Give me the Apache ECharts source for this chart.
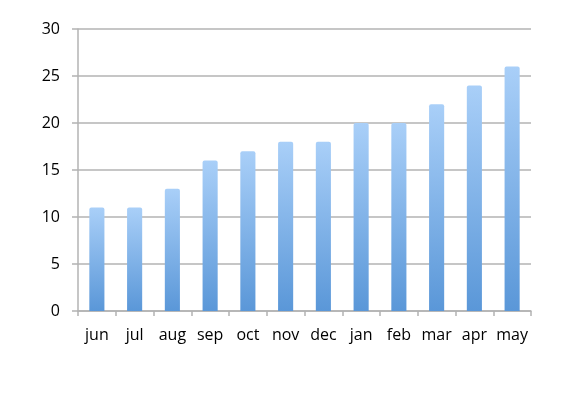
<!DOCTYPE html>
<html>
<head>
<meta charset="utf-8">
<script src="https://cdn.jsdelivr.net/npm/echarts@6/dist/echarts.min.js"></script>
<style>
  html, body { margin: 0; padding: 0; background: #fff; }
  #main { width: 562px; height: 398px; }
</style>
</head>
<body>
<div id="main"></div>
<script>
var months = ['jun', 'jul', 'aug', 'sep', 'oct', 'nov', 'dec', 'jan', 'feb', 'mar', 'apr', 'may'];
var values = [11, 11, 13, 16, 17, 18, 18, 20, 20, 22, 24, 26];
var yTicks = [0, 5, 10, 15, 20, 25, 30];

var myChart = echarts.init(document.getElementById('main'));
var labelFont = { color: '#000', fontSize: 16, fontFamily: 'Open Sans, Liberation Sans, sans-serif' };

var option = {
    animation: false,
    grid: { left: 78, right: 31, top: 29, bottom: 87 },
    xAxis: {
        type: 'category',
        data: months,
        axisLine: { lineStyle: { color: '#b3b3b3', width: 1.5 } },
        axisTick: { show: true, length: 5, lineStyle: { color: '#b3b3b3', width: 1.5 } },
        axisLabel: Object.assign({ margin: 16, interval: 0 }, labelFont)
    },
    yAxis: {
        type: 'value',
        min: yTicks[0],
        max: yTicks[yTicks.length - 1],
        interval: 5,
        axisLine: { show: true, lineStyle: { color: '#b3b3b3', width: 1.5 } },
        axisTick: { show: true, length: 6, lineStyle: { color: '#b3b3b3', width: 1.5 } },
        splitLine: { lineStyle: { color: '#b3b3b3', width: 1.5 } },
        axisLabel: Object.assign({ margin: 18 }, labelFont)
    },
    series: [{
        type: 'bar',
        data: values,
        barWidth: '40%',
        itemStyle: {
            borderRadius: [2, 2, 0, 0],
            color: new echarts.graphic.LinearGradient(0, 0, 0, 1, [
                { offset: 0, color: '#a9cff8' },
                { offset: 1, color: '#5a97d8' }
            ])
        }
    }]
};

myChart.setOption(option);
</script>
</body>
</html>
